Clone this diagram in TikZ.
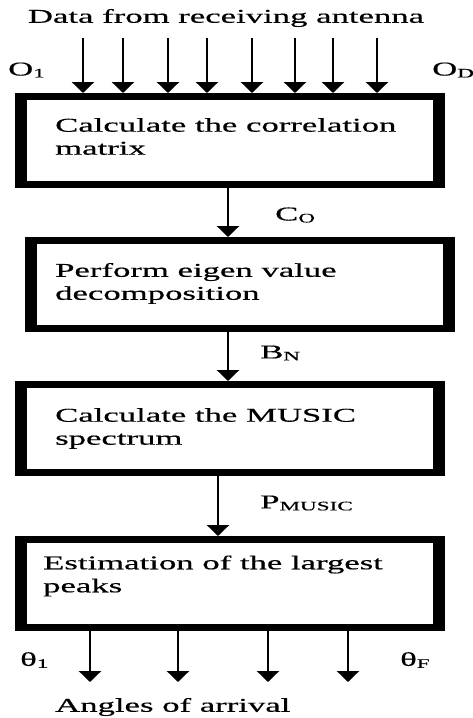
\documentclass[tikz,border=0pt]{standalone}
\usepackage{fontspec}
\setmainfont{Liberation Serif}[FakeStretch=1.78,FakeBold=0.5]
\usetikzlibrary{arrows.meta}
\newcommand\lowsub[1]{\raisebox{-2pt}{\fontsize{13}{13}\selectfont #1}}
\tikzset{
  box/.style={draw=black, line width=7pt, fill=white, inner sep=0pt, outer sep=3.5pt,
              minimum width=423pt, minimum height=88pt},
  txt/.style={inner sep=0pt, align=left, anchor=west, font=\fontsize{19.5}{23}\selectfont},
  lbl/.style={inner sep=0pt, anchor=west, font=\fontsize{19.5}{23}\selectfont},
  flow/.style={line width=2.6pt, -{Triangle[width=22pt,length=11pt]}},
  sidebar/.style={fill=black}
}
\begin{document}
\begin{tikzpicture}[x=1pt,y=-1pt]
\useasboundingbox (0,0) rectangle (473,718);

% boxes
\node[box] (b1) at (230,140.5) {};
\node[box] (b2) at (240,284.5) {};
\node[box] (b3) at (230,428.5) {};
\node[box] (b4) at (230,583.5) {};
\foreach \b in {b1,b2,b3,b4}{
  \fill[sidebar] (\b.north west) rectangle ([xshift=12pt]\b.south west);
  \fill[sidebar] ([xshift=-12pt]\b.north east) rectangle (\b.south east);
}

% box texts
\node[txt] (t1) at (55,136.5) {Calculate the correlation\\matrix};
\node[txt] (t2) at (55,283.5) {Perform eigen value\\decomposition};
\node[txt] (t3) at (55,428.5) {Calculate the MUSIC\\spectrum};
\node[txt] (t4) at (43,576) {Estimation of the largest\\peaks};

% title and top inputs
\node[lbl, anchor=center] (title) at (226,18) {Data from receiving antenna};
\node[lbl] (o1) at (8,70) {O\lowsub{1}};
\node[lbl] (od) at (432,70) {O\lowsub{D}};
\foreach \x [count=\i] in {83,123,168,207,252,295,333,377}{
  \coordinate (in\i) at (\x,38);
  \draw[flow] (in\i) -- (in\i |- b1.north);
}

% flow between boxes
\draw[flow] (b1.south -| 228,0) -- (b2.north -| 228,0);
\draw[flow] (b2.south -| 228,0) -- (b3.north -| 228,0);
\draw[flow] (b3.south -| 218,0) -- (b4.north -| 218,0);
\node[lbl] (co) at (275,215) {C\lowsub{O}};
\node[lbl] (bn) at (260,353) {B\lowsub{N}};
\node[lbl] (pm) at (260,503) {P\lowsub{MUSIC}};

% outputs
\foreach \x [count=\i] in {90,178,268,348}{
  \coordinate (out\i) at (\x,682);
  \draw[flow] (out\i |- b4.south) -- (out\i);
}
\node[lbl] (th1) at (20,660) {θ\lowsub{1}};
\node[lbl] (thf) at (400,660) {θ\lowsub{F}};
\node[lbl] (aoa) at (55,707) {Angles of arrival};
\end{tikzpicture}
\end{document}
